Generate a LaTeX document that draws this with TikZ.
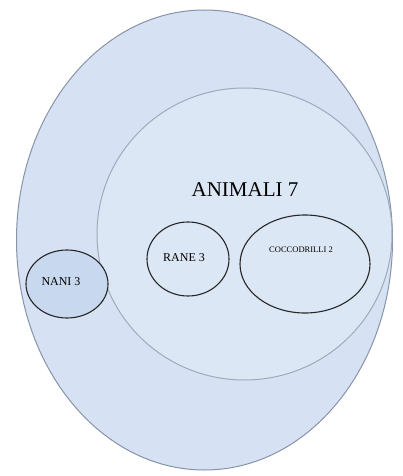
\documentclass[tikz,border=0pt]{standalone}
\usepackage{fontspec}
\setmainfont{Liberation Serif}
\usetikzlibrary{shapes.geometric}
\definecolor{bgfill}{RGB}{214,226,243}
\definecolor{inner}{RGB}{220,231,245}
\definecolor{nanifill}{RGB}{200,216,238}
\definecolor{outline}{RGB}{135,148,168}
\begin{document}
\begin{tikzpicture}[x=1pt,y=-1pt,
  bigset/.style={ellipse,draw=outline,line width=1pt,fill=bgfill,inner sep=0pt},
  subset/.style={ellipse,draw=black!85,line width=1.1pt,inner sep=0pt}]
\useasboundingbox (0,0) rectangle (403,476);
\fill[white] (0,0) rectangle (403,476);
\node[bigset,minimum width=376pt,minimum height=460pt] (outer) at (204.5,240) {};
\node[bigset,draw=outline!80,fill=inner,minimum width=295pt,minimum height=292pt] (animali) at (244.5,234) {};
\node[font=\fontsize{21}{24}\selectfont] (lab) at (245,190) {ANIMALI 7};
\node[subset,fill=nanifill,minimum width=82pt,minimum height=68pt] (nani) at (67,284) {};
\node[font=\fontsize{12}{14}\selectfont] (nanilab) at (61,282) {NANI 3};
\node[subset,minimum width=82pt,minimum height=74pt] (rane) at (188,259) {};
\node[font=\fontsize{12}{14}\selectfont] (ranelab) at (184,258) {RANE 3};
\node[subset,minimum width=130pt,minimum height=98pt] (cocco) at (305,264) {};
\node[font=\fontsize{8.5}{10}\selectfont] (coccolab) at (301,250) {COCCODRILLI 2};
\end{tikzpicture}
\end{document}
